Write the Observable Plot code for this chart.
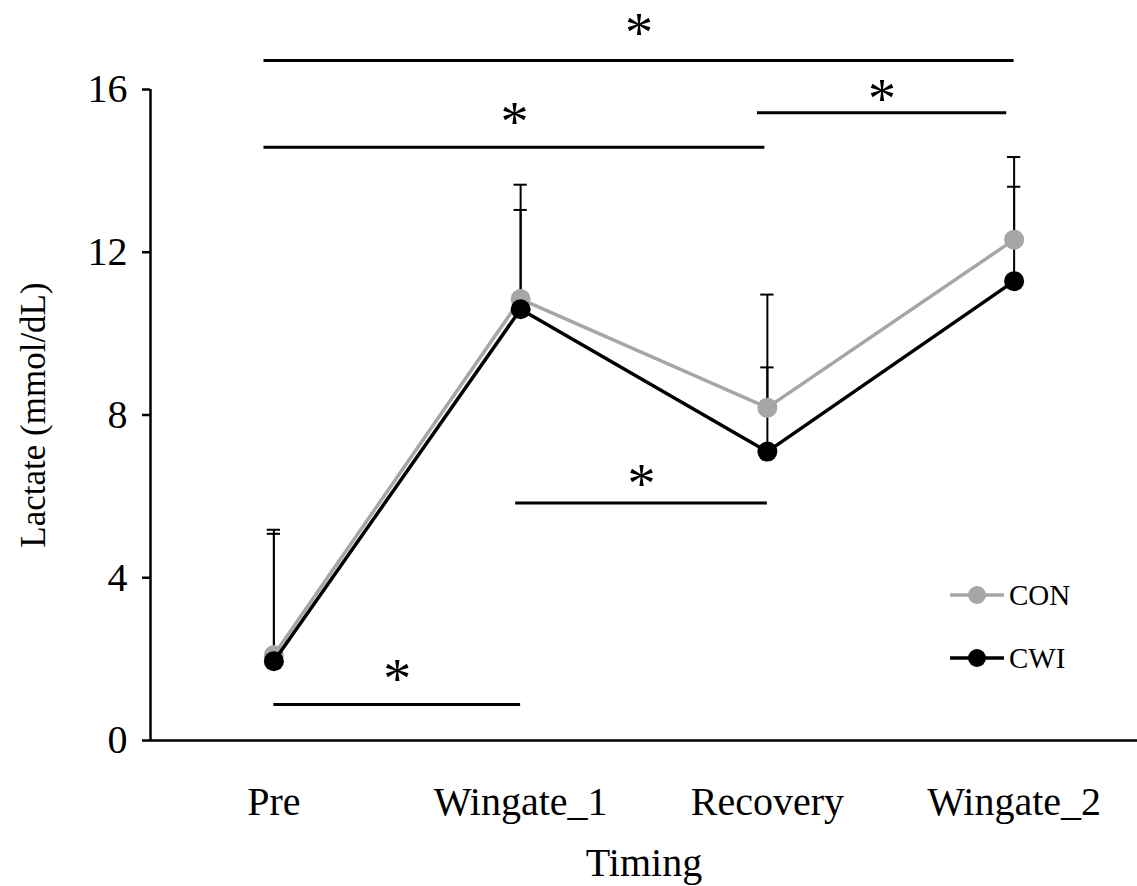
<!DOCTYPE html>
<html>
<head>
<meta charset="utf-8">
<script src="https://cdn.jsdelivr.net/npm/d3@7"></script>
<script src="https://cdn.jsdelivr.net/npm/@observablehq/plot@0.6"></script>
<style>
  body { margin: 0; background: #fff; }
  #wrap { position: relative; width: 1137px; height: 886px; font-family: "Liberation Serif", "Times New Roman", serif; }
  #legend { position: absolute; left: 950px; top: 580px; }
  #legend .item { display: flex; align-items: center; height: 30px; margin-bottom: 33px; font-size: 29px; color: #000; }
  #legend svg { display: block; margin-right: 5px; }
</style>
</head>
<body>
<div id="wrap"><div id="legend"></div></div>
<script>
// Sampling points
const timings = ["Pre", "Wingate_1", "Recovery", "Wingate_2"];

// Blood lactate (mmol/dL), group means and upper SD
const conMean = [2.1, 10.85, 8.18, 12.31];
const conSD   = [3.08, 2.81, 2.78, 2.03];
const cwiMean = [1.95, 10.6, 7.1, 11.29];
const cwiSD   = [3.13, 2.44, 2.07, 2.32];

// Series names and colours
const seriesNames  = ["CON", "CWI"];
const seriesColors = ["#a6a6a6", "#000000"];

// Significance brackets: start / end (timing index), bar level and star level (mmol/dL)
const sigStart = [-0.04, -0.04, 1.96, 0.98, 0.0];
const sigEnd   = [3.0, 1.99, 2.97, 2.0, 1.0];
const sigLevel = [16.71, 14.58, 15.43, 5.84, 0.885];
const sigStar  = [17.57, 15.36, 15.94, 6.47, 1.67];

const rows = [];
[[conMean, conSD], [cwiMean, cwiSD]].forEach(([m, sd], s) => {
  m.forEach((v, i) => rows.push({series: seriesNames[s], i, mean: v, top: v + sd[i]}));
});
const con = rows.filter(d => d.series === "CON");
const cwi = rows.filter(d => d.series === "CWI");
const sig = sigStart.map((a, k) => ({a, b: sigEnd[k], y: sigLevel[k], star: sigStar[k], mid: (a + sigEnd[k]) / 2}));

const capHalf = 0.027;
const font = "'Liberation Serif', 'Times New Roman', serif";

const chart = Plot.plot({
  width: 1137,
  height: 886,
  marginLeft: 150,
  marginRight: 0,
  marginTop: 89,
  marginBottom: 146,
  style: {fontFamily: font, background: "white", color: "black", overflow: "visible"},
  x: {type: "linear", domain: [-0.5, 3.5]},
  y: {domain: [0, 16]},
  marks: [
    Plot.axisY({ticks: [0, 4, 8, 12, 16], tickSize: 8, tickPadding: 15, fontSize: 40, label: null, strokeWidth: 2.5}),
    Plot.axisX({ticks: [0, 1, 2, 3], tickFormat: i => timings[i], tickSize: 0, tickPadding: 46, fontSize: 40, label: null}),
    Plot.ruleX([-0.5], {y1: 0, y2: 16, strokeWidth: 2.5}),
    Plot.ruleY([0], {strokeWidth: 2.5}),
    Plot.text(["Timing"], {frameAnchor: "bottom", dy: 135, lineAnchor: "bottom", fontSize: 40}),
    Plot.text(["Lactate (mmol/dL)"], {frameAnchor: "left", dx: -117, rotate: -90, textAnchor: "middle", fontSize: 35}),
    // error bars (upper SD only)
    Plot.ruleX(rows, {x: "i", y1: "mean", y2: "top", stroke: "black", strokeWidth: 2}),
    Plot.ruleY(rows, {y: "top", x1: d => d.i - capHalf, x2: d => d.i + capHalf, stroke: "black", strokeWidth: 2}),
    // series
    Plot.line(con, {x: "i", y: "mean", stroke: seriesColors[0], strokeWidth: 3.5}),
    Plot.dot(con, {x: "i", y: "mean", r: 10, fill: seriesColors[0]}),
    Plot.line(cwi, {x: "i", y: "mean", stroke: seriesColors[1], strokeWidth: 3.5}),
    Plot.dot(cwi, {x: "i", y: "mean", r: 10, fill: seriesColors[1]}),
    // significance brackets
    Plot.ruleY(sig, {y: "y", x1: "a", x2: "b", stroke: "black", strokeWidth: 3}),
    Plot.text(sig, {x: "mid", y: "star", text: () => "*", fontSize: 56, dy: 8})
  ]
});
document.getElementById("wrap").prepend(chart);

// Legend
const legend = d3.select("#legend");
seriesNames.forEach((name, s) => {
  const item = legend.append("div").attr("class", "item");
  const svg = item.append("svg").attr("width", 54).attr("height", 30);
  svg.append("line").attr("x1", 0).attr("x2", 54).attr("y1", 15).attr("y2", 15)
    .attr("stroke", seriesColors[s]).attr("stroke-width", 3.5);
  svg.append("circle").attr("cx", 27).attr("cy", 15).attr("r", 9).attr("fill", seriesColors[s]);
  item.append("span").text(name);
});
</script>
</body>
</html>
